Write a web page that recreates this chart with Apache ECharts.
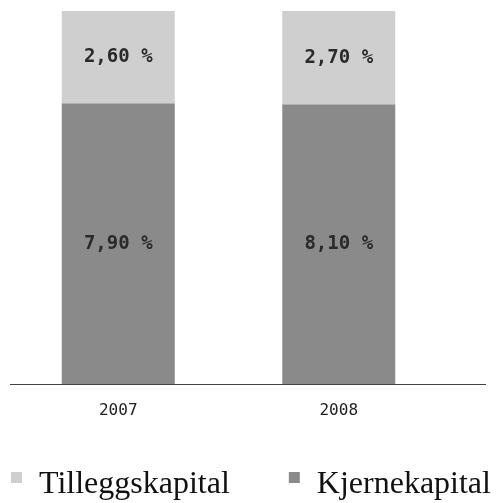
<!DOCTYPE html>
<html><head><meta charset="utf-8">
<script src="https://cdn.jsdelivr.net/npm/echarts@6/dist/echarts.min.js"></script>
<style>html,body{margin:0;padding:0;background:#fff}#c{width:499px;height:503px}</style>
</head><body><div id="c"></div>
<script>
const categories = ['2007', '2008'];
const tillegg = [2.60, 2.70];
const kjerne = [7.90, 8.10];
const seriesNames = ['Tilleggskapital', 'Kjernekapital'];

const totals = categories.map((_, i) => tillegg[i] + kjerne[i]);
const fmt = v => v.toFixed(2).replace('.', ',') + ' %';
const share = (arr) => arr.map((v, i) => v / totals[i] * 100);

const chart = echarts.init(document.getElementById('c'));
const lbl = (arr) => ({
  show: true, position: 'inside',
  formatter: p => fmt(arr[p.dataIndex]),
  fontFamily: 'DejaVu Sans Mono', fontSize: 19, fontWeight: 'bold', color: '#2a2a2a'
});
chart.setOption({
  animation: false,
  grid: { left: 8, right: 50, top: 11, bottom: 119 },
  legend: {
    left: 11, bottom: 2, padding: 0, width: 600, itemWidth: 11, itemHeight: 26, itemGap: 59,
    icon: 'path://M0,0H11V11H0Z M0,26H0.01V26.01H0Z',
    data: [seriesNames[0], seriesNames[1]],
    textStyle: { fontFamily: 'Liberation Serif', fontSize: 32, color: '#111', padding: [0, 0, 0, 12] }
  },
  xAxis: {
    type: 'category', data: categories,
    axisLine: { show: false },
    axisTick: { show: false },
    axisLabel: { margin: 19, fontFamily: 'DejaVu Sans Mono', fontSize: 16, color: '#222' }
  },
  yAxis: { type: 'value', min: 0, max: 100, show: false, splitLine: { show: false } },
  graphic: [{ type: 'line', shape: { x1: 10, y1: 384.5, x2: 486, y2: 384.5 }, style: { stroke: '#444', lineWidth: 1 } }],
  series: [
    { name: seriesNames[1], type: 'bar', stack: 't', barWidth: 113, data: share(kjerne),
      itemStyle: { color: '#8a8a8a' }, label: lbl(kjerne) },
    { name: seriesNames[0], type: 'bar', stack: 't', barWidth: 113, data: share(tillegg),
      itemStyle: { color: '#cfcfcf' }, label: lbl(tillegg) }
  ]
});
</script></body></html>
